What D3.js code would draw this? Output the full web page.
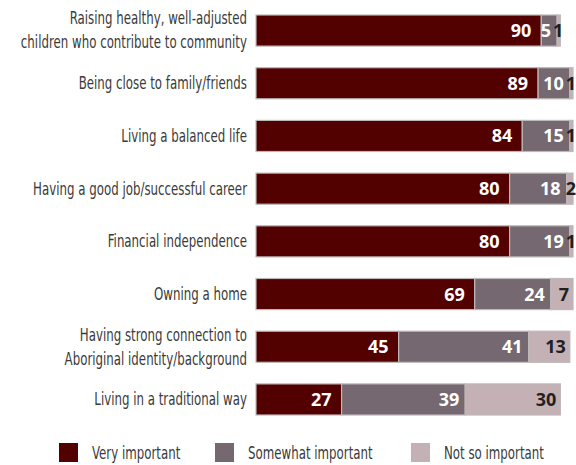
<!DOCTYPE html>
<html>
<head>
  <meta charset="utf-8">
  <script src="https://d3js.org/d3.v7.min.js"></script>
  <style>
    body { margin:0; background:#fff; }
    .lbl { font-family: "DejaVu Sans Condensed", "DejaVu Sans", sans-serif; font-stretch: condensed; font-size: 17px; fill: #3a3a3a; }
    .val { font-family: "Open Sans", sans-serif; font-weight: 700; font-size: 18px; }
  </style>
</head>
<body>
  <div id="container"></div>
  <script>
    var w = 576, h = 465;

    var categories = [
      ["Raising healthy, well-adjusted", "children who contribute to community"],
      ["Being close to family/friends"],
      ["Living a balanced life"],
      ["Having a good job/successful career"],
      ["Financial independence"],
      ["Owning a home"],
      ["Having strong connection to", "Aboriginal identity/background"],
      ["Living in a traditional way"]
    ];
    var series = ["Very important", "Somewhat important", "Not so important"];
    var veryImportant     = [90, 89, 84, 80, 80, 69, 45, 27];
    var somewhatImportant = [5, 10, 15, 18, 19, 24, 41, 39];
    var notSoImportant    = [1, 1, 1, 2, 1, 7, 13, 30];

    var colors = ["#530000", "#756870", "#c4b1b5"];
    var textColors = ["#fff", "#fff", "#231f20"];
    var pad = [10, 6, 4];

    var svg = d3.select("#container").append("svg")
      .attr("width", w).attr("height", h);

    var x = d3.scaleLinear().domain([0, 100]).range([256, 573]);
    var y = d3.scaleBand().domain(d3.range(categories.length))
      .range([15, 415]).paddingInner(0.41);

    var rows = categories.map(function(c, i) {
      return [veryImportant[i], somewhatImportant[i], notSoImportant[i]];
    });

    var row = svg.selectAll("g.row").data(rows).enter().append("g")
      .attr("class", "row")
      .attr("transform", function(d, i) { return "translate(0," + y(i) + ")"; });

    row.each(function(d) {
      var g = d3.select(this), start = 0;
      d.forEach(function(v, k) {
        var x0 = x(start), x1 = x(start + v);
        g.append("rect")
          .attr("x", x0).attr("y", 0)
          .attr("width", x1 - x0).attr("height", y.bandwidth())
          .attr("fill", colors[k])
          .attr("stroke", "#bdb8ba").attr("stroke-width", 1.2);
        var tiny = v <= 2;
        g.append("text").attr("class", "val")
          .attr("x", tiny ? x1 + 3 : x1 - pad[k])
          .attr("y", y.bandwidth() / 2)
          .attr("dy", "0.36em")
          .attr("text-anchor", "end")
          .attr("fill", tiny ? "#231f20" : textColors[k])
          .text(v);
        start += v;
      });
    });

    // squeeze the labels to look like the condensed face of the original
    var probe = svg.append("text").attr("class", "lbl").text(categories[3][0]);
    var sx = 214 / probe.node().getComputedTextLength();
    probe.remove();

    // category labels
    categories.forEach(function(lines, i) {
      var cy = y(i) + y.bandwidth() / 2;
      var t = svg.append("text").attr("class", "lbl")
        .attr("text-anchor", "end")
        .attr("transform", "translate(247,0) scale(" + sx + ",1)");
      lines.forEach(function(s, j) {
        t.append("tspan")
          .attr("x", 0)
          .attr("y", cy + (j - (lines.length - 1) / 2) * 24)
          .attr("dy", "0.35em")
          .text(s);
      });
    });

    // legend
    var legX = [59, 215, 411];
    var leg = svg.selectAll("g.leg").data(series).enter().append("g")
      .attr("class", "leg")
      .attr("transform", function(d, i) { return "translate(" + legX[i] + ",443)"; });
    leg.append("rect").attr("width", 19).attr("height", 19)
      .attr("fill", function(d, i) { return colors[i]; });
    leg.append("text").attr("class", "lbl")
      .attr("transform", "translate(33,0) scale(" + sx + ",1)")
      .attr("y", 10).attr("dy", "0.35em")
      .text(function(d) { return d; });
  </script>
</body>
</html>
